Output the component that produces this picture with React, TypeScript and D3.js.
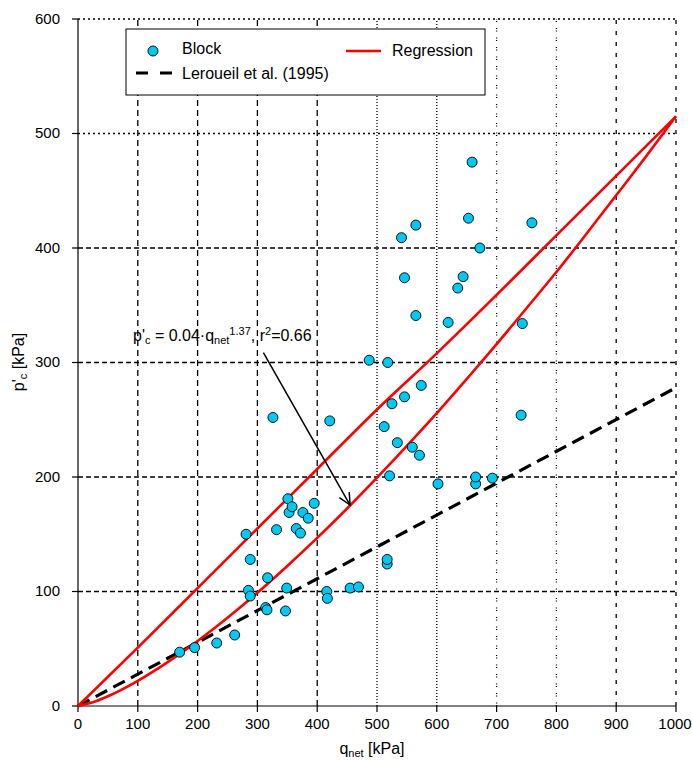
import React from 'react'
import * as d3 from 'd3'

// Block samples (q_net, p'c) in kPa
const blockQ = [170, 195, 232, 262, 281, 285, 288, 288, 314, 316, 317, 326, 332, 347, 349, 351, 353, 358, 365, 372, 376, 385, 395, 416, 417, 421, 455, 469, 487, 512, 517, 517, 518, 521, 525, 534, 541, 546, 546, 559, 565, 565, 571, 574, 602, 619, 635, 644, 653, 659, 665, 665, 672, 693, 741, 743, 759]
const blockP = [47, 51, 55, 62, 150, 101, 96, 128, 86, 84, 112, 252, 154, 83, 103, 181, 169, 174, 155, 151, 169, 164, 177, 100, 94, 249, 103, 104, 302, 244, 124, 128, 300, 201, 264, 230, 409, 270, 374, 226, 420, 341, 219, 280, 194, 335, 365, 375, 426, 475, 194, 200, 400, 199, 254, 334, 422]

// regression p'c = 0.04 q^1.37, read at these q values
const regQ = [0, 25, 50, 100, 150, 200, 250, 300, 350, 400, 450, 500, 550, 600, 650, 700, 750, 800, 850, 900, 950, 1000]
const regP = [0, 3.3, 8.5, 22, 38.3, 56.8, 77.1, 98.9, 122.3, 146.8, 172.5, 199.4, 227.2, 255.8, 285.6, 316, 347.4, 379, 412.2, 446, 480, 515]

// second red curve
const upperQ = [0, 100, 200, 300, 400, 500, 600, 700, 800, 900, 1000]
const upperP = [0, 51, 103, 155, 207, 259, 308, 359, 411, 463, 515]

// Leroueil et al. (1995)
const lerQ = [0, 500, 1000]
const lerP = [0, 139, 278]

const xTicks = [0, 100, 200, 300, 400, 500, 600, 700, 800, 900, 1000]
const yTicks = [0, 100, 200, 300, 400, 500, 600]

const font = 'Arial, "Liberation Sans", sans-serif'
const fs = 16
const fsTick = 15
const fsSub = 11

const vGridDash = (v: number) => {
  if (v <= 400) return '6,4'
  if (v <= 600) return '1,2'
  if (v <= 800) return '1,1.5,1,6'
  return '4,7'
}
const hGridDash = (v: number) => (v <= 400 ? '5,3' : '2,3')

export default function App() {
  const width = 692
  const height = 762
  const x = d3.scaleLinear().domain([0, 1000]).range([78, 676])
  const y = d3.scaleLinear().domain([0, 600]).range([706, 19])

  const line = d3.line<[number, number]>().x(d => x(d[0])).y(d => y(d[1]))
  const smooth = d3.line<[number, number]>().x(d => x(d[0])).y(d => y(d[1])).curve(d3.curveMonotoneX)

  const regPts = regQ.map((q, i) => [q, regP[i]] as [number, number])
  const upPts = upperQ.map((q, i) => [q, upperP[i]] as [number, number])
  const lerPts = lerQ.map((q, i) => [q, lerP[i]] as [number, number])

  // annotation arrow
  const a0 = [x(310), y(308.6)]
  const a1 = [x(455), y(175.5)]
  const ang = Math.atan2(a1[1] - a0[1], a1[0] - a0[0])
  const head = 13
  const h1 = [a1[0] - head * Math.cos(ang - 0.45), a1[1] - head * Math.sin(ang - 0.45)]
  const h2 = [a1[0] - head * Math.cos(ang + 0.45), a1[1] - head * Math.sin(ang + 0.45)]

  return (
    <svg width={width} height={height} style={{ position: 'absolute', left: 0, top: 0, background: '#fff' }} fontFamily={font}>
      {/* grid */}
      {xTicks.filter(t => t > 0).map(t => (
        <line key={'vx' + t} x1={x(t)} x2={x(t)} y1={y(0)} y2={y(600)} stroke="#000" strokeWidth={1.3} strokeDasharray={vGridDash(t)} />
      ))}
      {yTicks.filter(t => t > 0).map(t => (
        <line key={'hy' + t} x1={x(0)} x2={x(1000)} y1={y(t)} y2={y(t)} stroke="#000" strokeWidth={1.3} strokeDasharray={hGridDash(t)} />
      ))}

      {/* axes */}
      <line x1={x(0)} x2={x(0)} y1={y(0)} y2={y(600)} stroke="#000" strokeWidth={1.2} />
      <line x1={x(0)} x2={x(1000)} y1={y(0)} y2={y(0)} stroke="#000" strokeWidth={1.2} />
      {yTicks.map(t => (
        <g key={'yt' + t}>
          <line x1={x(0) - 6} x2={x(0)} y1={y(t)} y2={y(t)} stroke="#000" strokeWidth={1.2} />
          <text x={60} y={y(t) - 1} textAnchor="end" dominantBaseline="central" fontSize={fsTick}>{t}</text>
        </g>
      ))}
      {xTicks.map(t => (
        <g key={'xt' + t}>
          <line x1={x(t)} x2={x(t)} y1={y(0)} y2={y(0) + 6} stroke="#000" strokeWidth={1.2} />
          <text x={t === 1000 ? x(t) - 1 : x(t)} y={723} textAnchor="middle" dominantBaseline="central" fontSize={fsTick}>{t}</text>
        </g>
      ))}

      {/* axis titles */}
      <text x={372} y={754} textAnchor="middle" fontSize={fs}>
        q<tspan fontSize={fsSub} dy={3}>net</tspan><tspan dy={-3}> [kPa]</tspan>
      </text>
      <text transform="translate(24,362) rotate(-90)" textAnchor="middle" fontSize={fs}>
        p'<tspan fontSize={fsSub} dy={3}>c</tspan><tspan dy={-3}> [kPa]</tspan>
      </text>

      {/* curves */}
      <path d={line(lerPts) || ''} fill="none" stroke="#000" strokeWidth={3.2} strokeDasharray="13,7" />
      <path d={smooth(regPts) || ''} fill="none" stroke="#ff0000" strokeWidth={2.6} />
      <path d={smooth(upPts) || ''} fill="none" stroke="#ff0000" strokeWidth={2.6} />

      {/* points */}
      {blockQ.map((q, i) => (
        <circle key={'b' + i} cx={x(q)} cy={y(blockP[i])} r={5} fill="#00c8f0" stroke="#000" strokeWidth={0.9} />
      ))}

      {/* annotation */}
      <text x={133} y={341} fontSize={fs} xmlSpace="preserve">
        p'<tspan fontSize={fsSub} dy={3}>c</tspan>
        <tspan dy={-3}> = 0.04·q</tspan>
        <tspan fontSize={fsSub} dy={3}>net</tspan>
        <tspan fontSize={fsSub} dy={-9}>1.37</tspan>
        <tspan dy={6}>, r</tspan>
        <tspan fontSize={fsSub} dy={-6}>2</tspan>
        <tspan dy={6}>=0.66</tspan>
      </text>
      <line x1={a0[0]} y1={a0[1]} x2={a1[0]} y2={a1[1]} stroke="#000" strokeWidth={1.5} />
      <polyline points={`${h1[0]},${h1[1]} ${a1[0]},${a1[1]} ${h2[0]},${h2[1]}`} fill="none" stroke="#000" strokeWidth={1.5} />

      {/* legend */}
      <rect x={126} y={29} width={359} height={66} fill="#fff" stroke="#000" strokeWidth={1} />
      <circle cx={153} cy={51} r={5} fill="#00c8f0" stroke="#000" strokeWidth={0.9} />
      <text x={182} y={48} dominantBaseline="central" fontSize={fs}>Block</text>
      <line x1={136} x2={172} y1={73} y2={73} stroke="#000" strokeWidth={3.2} strokeDasharray="12,12" />
      <text x={182} y={73} dominantBaseline="central" fontSize={fs}>Leroueil et al. (1995)</text>
      <line x1={346} x2={381} y1={51} y2={51} stroke="#ff0000" strokeWidth={2.6} />
      <text x={392} y={50} dominantBaseline="central" fontSize={fs}>Regression</text>
    </svg>
  )
}
